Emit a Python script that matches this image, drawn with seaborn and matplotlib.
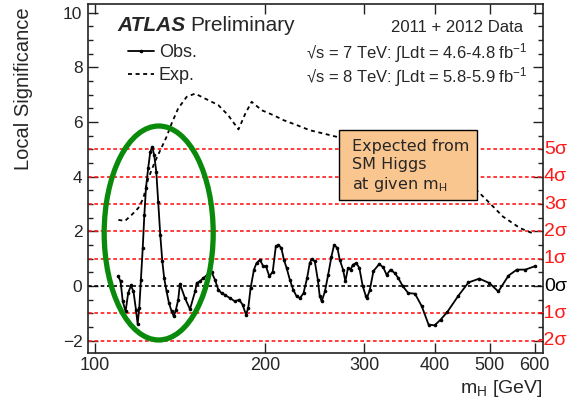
import matplotlib
matplotlib.use("Agg")
import numpy as np
import pandas as pd
import seaborn as sns
import matplotlib.pyplot as plt
import matplotlib.transforms as mtrans
from matplotlib.patches import Ellipse, Rectangle
from matplotlib.lines import Line2D
from matplotlib.ticker import FixedLocator, FixedFormatter, NullLocator, MultipleLocator

# ---------------- data ----------------
obs_mass = [110, 111, 112, 113.3, 114.5, 115.8, 117, 118.2, 119, 119.8, 120.6, 121.5, 122.3,
            123.1, 124.2, 125.3, 126.3, 127.3, 128.4, 129.4, 130.5, 131.6, 132.6, 133.9, 135.2,
            136.7, 137.9, 139.1, 140.4, 141.4, 144.3, 147.3, 150.4, 151.4, 153.4, 155.5, 158,
            160.9, 163.1, 165.3, 167.5, 170, 173.3, 176.9, 180, 182.5, 185.1, 186.8, 188.6,
            191.2, 193.2, 195.9, 198.6, 200.8, 203.6, 206.4, 209, 211.2, 213.8, 216, 218.4,
            221.3, 224.3, 227.5, 230.7, 234, 237.4, 240, 242, 245, 248, 250, 252, 255.3, 258.7,
            262.2, 265, 268.7, 271.2, 274.9, 277.5, 280.5, 283.5, 286.1, 290, 293.8, 297.8,
            301.8, 303, 306.5, 311.2, 318.5, 323.7, 328.3, 333.6, 339.5, 344.3, 350.5, 358.6,
            368.5, 378.9, 389.5, 399.2, 409.1, 420.1, 440, 458.3, 478.9, 498.9, 517.7, 539.5,
            558.3, 578, 600]
obs_sig = [0.35, 0.17, -0.56, -0.93, -0.26, 0.02, -0.2, -0.87, -1.39, -0.8, 0.23, 1.39, 2.6,
           3.58, 4.3, 4.91, 5.09, 4.79, 4.18, 3.09, 1.87, 0.9, 0.29, -0.2, -0.62,
           -0.93, -1.11, -0.87, -0.5, 0.08, -0.44, -0.85, -0.2, 0.11, 0.17, 0.29, 0.4,
           0.5, 0.23, -0.13, -0.26, -0.33, -0.44, -0.56, -0.5, -0.68, -1.05, -0.8, -0.07,
           0.6, 0.84, 0.96, 0.72, 0.72, 0.35, 0.53, 1.45, 1.5, 1.39, 0.96, 0.66,
           0.23, -0.13, -0.38, -0.44, -0.26, 0.29, 0.84, 0.99, 0.9, 0.23, -0.38, -0.56, -0.2, 0.41,
           1.08, 1.5, 1.39, 0.96, 0.6, 0.17, 0.66, 0.6, 0.78, 0.84, 0.66, 0.0,
           -0.38, -0.44, -0.15, 0.55, 0.8, 0.69, 0.41, 0.6, 0.47, 0.29, 0.0, -0.26,
           -0.28, -0.74, -1.41, -1.44, -1.23, -0.96, -0.35, 0.13, 0.27, 0.11, -0.2, 0.38,
           0.6, 0.6, 0.72]

exp_mass = [110, 113, 116.1, 119.3, 121.8, 124.3, 127.7, 133.9, 136.7, 140.4, 145.3, 150.4,
            156.6, 165.3, 172.1, 179.5, 184.6, 189.4, 197.4, 207, 215.6, 227.5, 240, 253.7,
            267.7, 300, 350, 400, 450, 476.9, 500, 527.5, 565.3, 600]
exp_sig = [2.42, 2.38, 2.6, 2.85, 3.21, 3.94, 4.55, 5.46, 5.95, 6.5, 6.92, 7.04,
           6.86, 6.62, 6.25, 5.73, 6.31, 6.74, 6.43, 6.25, 6.07, 5.89, 5.7, 5.58,
           5.46, 5.1, 4.6, 4.1, 3.7, 3.45, 3.03, 2.54, 2.12, 1.9]

sigma_levels = [5, 4, 3, 2, 1, 0, -1, -2]
sigma_labels = ["5σ", "4σ", "3σ", "2σ", "1σ", "0σ", "-1σ", "-2σ"]

x_ticks = [100, 200, 300, 400, 500, 600]
x_ticklabels = ["100", "200", "300", "400", "500", "600"]

obs_df = pd.DataFrame({"mH": obs_mass, "sig": obs_sig})
exp_df = pd.DataFrame({"mH": exp_mass, "sig": exp_sig})

# ---------------- style ----------------
sns.set_theme(style="ticks")
plt.rcParams["font.family"] = ["Liberation Sans", "DejaVu Sans"]
plt.rcParams["mathtext.fontset"] = "custom"
plt.rcParams["mathtext.rm"] = "Liberation Sans"
plt.rcParams["mathtext.it"] = "Liberation Sans:italic"
plt.rcParams["mathtext.bf"] = "Liberation Sans:bold"

fig = plt.figure(figsize=(5.8, 3.98), dpi=100)
ax = fig.add_axes([0.1517, 0.1131, 0.7845, 0.8756])

red = "#ff1a1a"
for lvl in sigma_levels:
    ax.axhline(lvl, color=("black" if lvl == 0 else red), ls=(0, (2.2, 1.6)), lw=1.2, zorder=1)

sns.lineplot(data=exp_df, x="mH", y="sig", ax=ax, color="black", lw=1.3,
             linestyle=(0, (2.2, 2.0)), estimator=None, sort=False, zorder=3)
sns.lineplot(data=obs_df, x="mH", y="sig", ax=ax, color="black", lw=1.3, marker="o",
             markersize=2.6, markeredgewidth=0, estimator=None, sort=False, zorder=4)

ax.set_xscale("log")
ax.set_xlim(97.2, 621)
ax.set_ylim(-2.45, 10.3)
ax.xaxis.set_major_locator(FixedLocator(x_ticks))
ax.xaxis.set_major_formatter(FixedFormatter(x_ticklabels))
ax.xaxis.set_minor_locator(NullLocator())
ax.yaxis.set_major_locator(MultipleLocator(2))
ax.yaxis.set_minor_locator(MultipleLocator(0.5))
ax.tick_params(which="both", direction="in", top=True, right=True, color="#222222", width=1.0)
ax.tick_params(which="major", length=7)
ax.tick_params(which="minor", length=3.5)
ax.tick_params(axis="x", labelsize=13, pad=3)
ax.tick_params(axis="y", labelsize=12.5, pad=4)
for s in ax.spines.values():
    s.set_linewidth(1.2)
    s.set_color("#222222")

ax.set_ylabel("Local Significance", loc="top", fontsize=14.5)
ax.yaxis.set_label_coords(-0.121, 0.993)
ax.set_xlabel(r"m$_\mathrm{H}$ [GeV]", loc="right", fontsize=14)
ax.xaxis.set_label_coords(1.0, -0.072)

# sigma labels on the right
trans = mtrans.blended_transform_factory(ax.transAxes, ax.transData)
for lvl, lab in zip(sigma_levels, sigma_labels):
    ax.text(1.0527, lvl, lab, transform=trans, color=("black" if lvl == 0 else red),
            fontsize=14, ha="right", va="center", clip_on=False)

# ATLAS label
ax.text(0.064, 0.941, "ATLAS", transform=ax.transAxes, fontsize=15, fontweight="bold",
        fontstyle="italic", va="center", ha="left")
ax.text(0.224, 0.941, "Preliminary", transform=ax.transAxes, fontsize=15, va="center", ha="left")

# data labels
ax.text(0.956, 0.9346, "2011 + 2012 Data", transform=ax.transAxes, fontsize=12, va="center", ha="right")
ax.text(0.479, 0.861, r"√s = 7 TeV: $\int$Ldt = 4.6-4.8 fb$^{-1}$", transform=ax.transAxes,
        fontsize=12, va="center", ha="left")
ax.text(0.479, 0.792, r"√s = 8 TeV: $\int$Ldt = 5.8-5.9 fb$^{-1}$", transform=ax.transAxes,
        fontsize=12, va="center", ha="left")

# legend
handles = [Line2D([], [], color="black", lw=1.3, marker="o", markersize=2.6, markeredgewidth=0),
           Line2D([], [], color="black", lw=1.3, linestyle=(0, (2.2, 2.0)))]
ax.legend(handles, ["Obs.", "Exp."], loc="upper left", bbox_to_anchor=(0.088, 0.887),
          frameon=False, fontsize=13, handlelength=1.45, handletextpad=0.25,
          labelspacing=0.35, borderpad=0, borderaxespad=0)

# annotation box
ax.add_patch(Rectangle((0.5523, 0.439), 0.3033, 0.2009, transform=ax.transAxes,
                       facecolor="#fac690", edgecolor="black", lw=1.0, zorder=6))
ax.text(0.5555 + 0.025, 0.615, "Expected from\nSM Higgs\nat given m$_\\mathrm{H}$",
        transform=ax.transAxes, fontsize=11.5, va="top", ha="left", linespacing=1.25,
        family=["DejaVu Sans"], zorder=7)

# green ellipse
ax.add_patch(Ellipse((0.1554, 0.3443), 0.2396, 0.614, transform=ax.transAxes, fill=False,
                     edgecolor="#0a8a0a", lw=3.8, zorder=8))

fig.savefig("out.png", dpi=100)
